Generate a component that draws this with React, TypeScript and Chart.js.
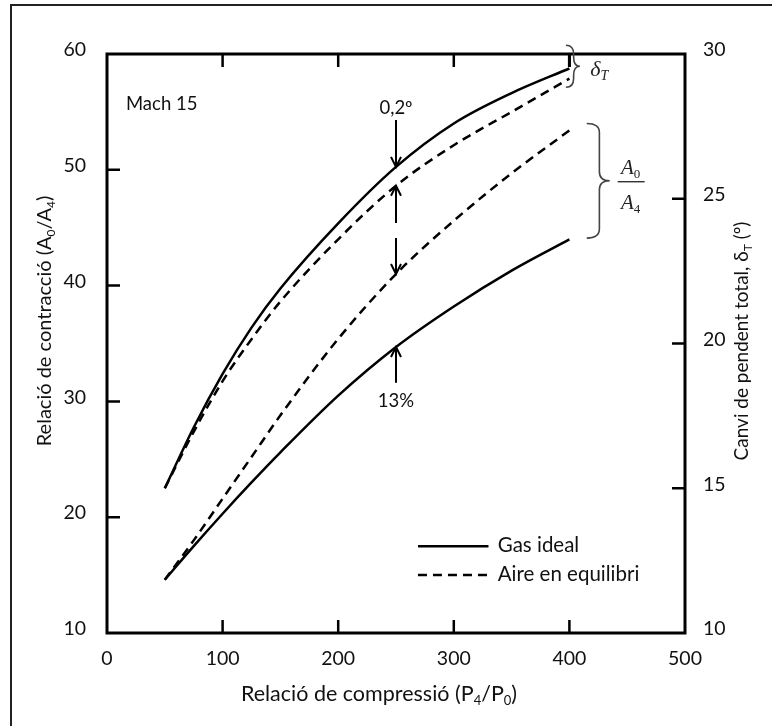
import React, { useEffect, useRef } from "react";
import { Chart, registerables } from "chart.js";

Chart.register(...registerables);

// ---- data ----
const compressionRatio = [50, 75, 100, 125, 150, 200, 250, 300, 350, 400];
// contraction ratio A0/A4 (left axis)
const areaIdeal = [14.6, 17.5, 20.3, 23.0, 25.6, 30.5, 34.7, 38.2, 41.3, 44.0];
const areaAir = [14.6, 18.0, 21.6, 25.2, 28.8, 35.4, 41.0, 45.6, 49.7, 53.4];
// total turning angle deltaT (right axis, degrees)
const deflIdeal = [15.0, 17.1, 18.95, 20.55, 21.9, 24.15, 26.1, 27.6, 28.65, 29.5];
const deflAir = [15.0, 16.95, 18.7, 20.15, 21.45, 23.6, 25.45, 26.85, 28.0, 29.15];

const xTickValues = [0, 100, 200, 300, 400, 500];
const leftTickValues = [10, 20, 30, 40, 50, 60];
const rightTickValues = [10, 15, 20, 25, 30];

const legendLabels = ["Gas ideal", "Aire en equilibri"];
const machLabel = "Mach 15";
const angleNote = "0,2º";
const areaNote = "13%";
const noteX = 250;

const FONT = "Lato, 'Open Sans', sans-serif";
const SERIF = "'Liberation Serif', 'DejaVu Serif', serif";
const INK = "#111";
const DASH = [9, 6];

type Seg = { t: string; sub?: boolean; italic?: boolean };

function richWidth(ctx: CanvasRenderingContext2D, segs: Seg[], size: number, family: string) {
  let w = 0;
  for (const s of segs) {
    ctx.font = `${s.italic ? "italic " : ""}${s.sub ? Math.round(size * 0.62) : size}px ${family}`;
    w += ctx.measureText(s.t).width;
  }
  return w;
}

function drawRich(
  ctx: CanvasRenderingContext2D,
  segs: Seg[],
  x: number,
  y: number,
  size: number,
  family: string,
  align: "left" | "center" = "center"
) {
  const total = richWidth(ctx, segs, size, family);
  let cx = align === "center" ? x - total / 2 : x;
  ctx.textAlign = "left";
  ctx.textBaseline = "middle";
  for (const s of segs) {
    ctx.font = `${s.italic ? "italic " : ""}${s.sub ? Math.round(size * 0.62) : size}px ${family}`;
    ctx.fillText(s.t, cx, s.sub ? y + size * 0.3 : y);
    cx += ctx.measureText(s.t).width;
  }
}

function arrow(ctx: CanvasRenderingContext2D, x: number, yFrom: number, yTo: number) {
  const dir = yTo > yFrom ? 1 : -1;
  ctx.beginPath();
  ctx.moveTo(x, yFrom);
  ctx.lineTo(x, yTo);
  ctx.moveTo(x - 5, yTo - dir * 10);
  ctx.lineTo(x, yTo);
  ctx.lineTo(x + 5, yTo - dir * 10);
  ctx.stroke();
}

function brace(ctx: CanvasRenderingContext2D, x: number, yTop: number, yBot: number, w: number) {
  const xm = x + w * 0.55;
  const xt = x + w;
  const mid = (yTop + yBot) / 2;
  const r = Math.min(9, (yBot - yTop) / 4);
  ctx.beginPath();
  ctx.moveTo(x, yTop);
  ctx.quadraticCurveTo(xm, yTop, xm, yTop + r);
  ctx.lineTo(xm, mid - r);
  ctx.quadraticCurveTo(xm, mid, xt, mid);
  ctx.quadraticCurveTo(xm, mid, xm, mid + r);
  ctx.lineTo(xm, yBot - r);
  ctx.quadraticCurveTo(xm, yBot, x, yBot);
  ctx.stroke();
}

const decorations = {
  id: "decorations",
  afterDraw(chart: any) {
    const { ctx, chartArea: a, scales } = chart;
    const X = (v: number) => scales.x.getPixelForValue(v);
    const YL = (v: number) => scales.y.getPixelForValue(v);
    const YR = (v: number) => scales.y1.getPixelForValue(v);
    ctx.save();
    ctx.strokeStyle = "#000";
    ctx.fillStyle = INK;
    ctx.lineCap = "butt";

    // frame
    ctx.lineWidth = 3;
    ctx.strokeRect(a.left, a.top, a.right - a.left, a.bottom - a.top);

    // inward ticks
    const tl = 13;
    ctx.lineWidth = 2.5;
    ctx.beginPath();
    for (const v of xTickValues.slice(1, -1)) {
      ctx.moveTo(X(v), a.bottom);
      ctx.lineTo(X(v), a.bottom - tl);
      ctx.moveTo(X(v), a.top);
      ctx.lineTo(X(v), a.top + tl);
    }
    for (const v of leftTickValues.slice(1, -1)) {
      ctx.moveTo(a.left, YL(v));
      ctx.lineTo(a.left + tl, YL(v));
    }
    for (const v of rightTickValues.slice(1, -1)) {
      ctx.moveTo(a.right, YR(v));
      ctx.lineTo(a.right - tl, YR(v));
    }
    ctx.stroke();

    // axis titles
    ctx.fillStyle = INK;
    drawRich(
      ctx,
      [{ t: "Relació de compressió (P" }, { t: "4", sub: true }, { t: "/P" }, { t: "0", sub: true }, { t: ")" }],
      379,
      694,
      21.5,
      FONT
    );
    ctx.save();
    ctx.translate(45, 321);
    ctx.rotate(-Math.PI / 2);
    drawRich(
      ctx,
      [{ t: "Relació de contracció (A" }, { t: "0", sub: true }, { t: "/A" }, { t: "4", sub: true }, { t: ")" }],
      0,
      0,
      20,
      FONT
    );
    ctx.restore();
    ctx.save();
    ctx.translate(742, 341);
    ctx.rotate(-Math.PI / 2);
    drawRich(ctx, [{ t: "Canvi de pendent total, δ" }, { t: "T", sub: true }, { t: " (º)" }], 0, 0, 19, FONT);
    ctx.restore();

    // Mach label
    ctx.font = `18.5px ${FONT}`;
    ctx.textAlign = "left";
    ctx.textBaseline = "middle";
    ctx.fillText(machLabel, X(16.4), YL(55.7));

    // notes and arrows at x = 250
    const ax = X(noteX);
    const iIdx = compressionRatio.indexOf(noteX);
    ctx.textAlign = "center";
    ctx.fillText(angleNote, ax, YL(55.3));
    ctx.fillText(areaNote, ax, YL(30.0));
    ctx.lineWidth = 2;
    arrow(ctx, ax, YL(54.3), YR(deflIdeal[iIdx]));
    arrow(ctx, ax, YL(45.4), YR(deflAir[iIdx]));
    arrow(ctx, ax, YL(44.1), YL(areaAir[iIdx]));
    arrow(ctx, ax, YL(31.6), YL(areaIdeal[iIdx]));

    // small bar at end of the deltaT curves
    ctx.lineWidth = 3;
    ctx.beginPath();
    ctx.moveTo(X(400), YR(29.97));
    ctx.lineTo(X(400), YR(29.55));
    ctx.stroke();

    // braces
    ctx.strokeStyle = "#444";
    ctx.lineWidth = 1.6;
    brace(ctx, X(397), YR(30.3), YR(28.85), 14);
    brace(ctx, X(415), YL(54.0), YL(44.1), 23);

    // deltaT label
    ctx.fillStyle = "#222";
    drawRich(ctx, [{ t: "δ", italic: true }, { t: "T", italic: true, sub: true }], X(418), YR(29.45), 22, SERIF, "left");

    // A0/A4 fraction
    const fx = X(453);
    drawRich(ctx, [{ t: "A", italic: true }, { t: "0", sub: true }], fx, YL(50.15), 21, SERIF);
    drawRich(ctx, [{ t: "A", italic: true }, { t: "4", sub: true }], fx, YL(47.13), 21, SERIF);
    ctx.strokeStyle = "#222";
    ctx.lineWidth = 1.3;
    ctx.beginPath();
    ctx.moveTo(fx - 13, YL(48.97));
    ctx.lineTo(fx + 14, YL(48.97));
    ctx.stroke();

    // legend
    ctx.strokeStyle = "#000";
    ctx.lineWidth = 2.5;
    ctx.beginPath();
    ctx.moveTo(X(269), YL(17.5));
    ctx.lineTo(X(330), YL(17.5));
    ctx.stroke();
    ctx.setLineDash(DASH);
    ctx.beginPath();
    ctx.moveTo(X(269), YL(15.0));
    ctx.lineTo(X(330), YL(15.0));
    ctx.stroke();
    ctx.setLineDash([]);
    ctx.fillStyle = INK;
    ctx.font = `20.5px ${FONT}`;
    ctx.textAlign = "left";
    ctx.textBaseline = "middle";
    ctx.fillText(legendLabels[0], X(338), YL(17.6));
    ctx.fillText(legendLabels[1], X(338), YL(15.1));

    ctx.restore();
  },
};

export default function App() {
  const ref = useRef<HTMLCanvasElement | null>(null);

  useEffect(() => {
    if (!ref.current) return;
    const pts = (ys: number[]) => compressionRatio.map((x, i) => ({ x, y: ys[i] }));
    const base = {
      borderColor: "#000",
      borderWidth: 2.5,
      pointRadius: 0,
      fill: false,
      cubicInterpolationMode: "monotone" as const,
    };
    const tickFont = { family: FONT, size: 19.5 };
    const chart = new Chart(ref.current, {
      type: "line",
      data: {
        datasets: [
          { ...base, label: legendLabels[0] + " A0/A4", data: pts(areaIdeal), yAxisID: "y" },
          { ...base, label: legendLabels[1] + " A0/A4", data: pts(areaAir), yAxisID: "y", borderDash: DASH },
          { ...base, label: legendLabels[0] + " δT", data: pts(deflIdeal), yAxisID: "y1" },
          { ...base, label: legendLabels[1] + " δT", data: pts(deflAir), yAxisID: "y1", borderDash: DASH },
        ],
      },
      options: {
        animation: false,
        responsive: false,
        maintainAspectRatio: false,
        layout: { padding: { top: 54, left: 0, right: 0, bottom: 0 } },
        plugins: { legend: { display: false }, tooltip: { enabled: false } },
        scales: {
          x: {
            type: "linear",
            min: 0,
            max: 500,
            ticks: { stepSize: 100, padding: 6, color: INK, font: tickFont },
            grid: { display: false },
            border: { display: false },
            afterFit: (s: any) => {
              s.height = 93;
            },
          },
          y: {
            position: "left",
            min: 10,
            max: 60,
            ticks: { stepSize: 10, padding: 13, color: INK, font: tickFont, labelOffset: -4 },
            grid: { display: false },
            border: { display: false },
            afterFit: (s: any) => {
              s.width = 107;
            },
          },
          y1: {
            position: "right",
            min: 10,
            max: 30,
            ticks: { stepSize: 5, padding: 10, color: INK, font: tickFont, labelOffset: -4 },
            grid: { display: false },
            border: { display: false },
            afterFit: (s: any) => {
              s.width = 87;
            },
          },
        },
      },
      plugins: [decorations],
    });
    return () => chart.destroy();
  }, []);

  return (
    <div style={{ position: "absolute", left: 0, top: 0, width: 772, height: 726, background: "#fff" }}>
      <div
        style={{
          position: "absolute",
          left: 10,
          top: 4,
          right: 0,
          bottom: 0,
          borderLeft: "2px solid #222",
          borderTop: "2px solid #222",
        }}
      />
      <canvas ref={ref} width={772} height={726} style={{ position: "absolute", left: 0, top: 0 }} />
    </div>
  );
}
